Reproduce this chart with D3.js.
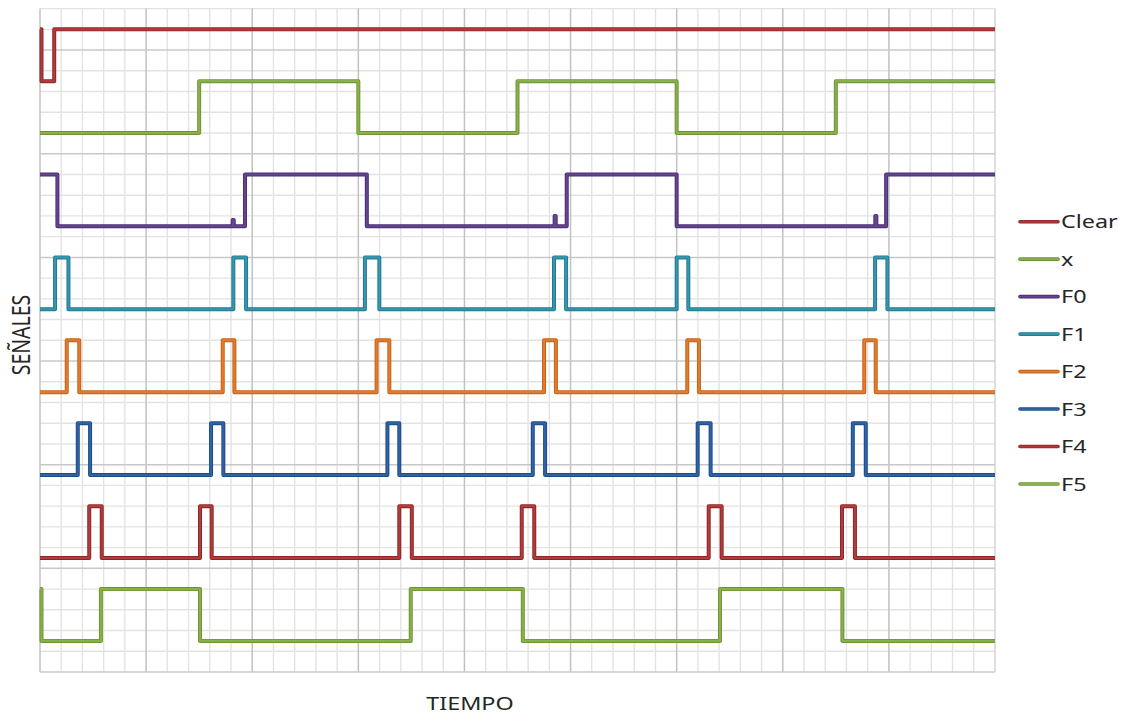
<!DOCTYPE html>
<html>
<head>
<meta charset="utf-8">
<script src="https://cdn.jsdelivr.net/npm/d3@7"></script>
<style>
  html, body { margin: 0; padding: 0; background: #fff; }
  svg { display: block; }
  .lbl { font-family: "Noto Sans", "DejaVu Sans", sans-serif; font-size: 18px; fill: #262626; }
</style>
</head>
<body>
<svg id="chart" width="1130" height="714"></svg>
<script>
(function () {
  "use strict";

  // time runs 0..45 (minor grid units), signal levels 0..32
  const T_MAX = 45;
  const Y_MAX = 32;

  const signalNames = ["Clear", "x", "F0", "F1", "F2", "F3", "F4", "F5"];
  const signalColors = ["#b23b3b", "#8ab04a", "#654490", "#3596ae", "#e27b2c", "#2f63a7", "#b23b3b", "#8ab04a"];
  const signalEdge = ["#8c2626", "#6f9236", "#4a2f72", "#23798f", "#c4621a", "#1d4b86", "#8c2626", "#6f9236"];
  const signalLow = [28.5, 26, 21.5, 17.5, 13.5, 9.5, 5.5, 1.5];
  const swing = 2.5;

  // [time, state] pairs, state 0 = low, 1 = high
  const clearPts = [[0, 1], [0.07, 0], [0.67, 1], [45, 1]];
  const xPts = [[0, 0], [7.5, 1], [15, 0], [22.5, 1], [30, 0], [37.5, 1], [45, 1]];
  const f0Pts = [[0, 1], [0.82, 0], [9.08, 0.12], [9.13, 0], [9.66, 1], [15.4, 0],
    [24.25, 0.2], [24.3, 0], [24.82, 1], [30, 0], [39.36, 0.2], [39.41, 0], [39.87, 1], [45, 1]];
  const f1Pts = [[0, 0], [0.71, 1], [1.34, 0], [9.11, 1], [9.71, 0], [15.31, 1], [15.99, 0],
    [24.22, 1], [24.79, 0], [30.0, 1], [30.55, 0], [39.35, 1], [39.93, 0], [45, 0]];
  const f2Pts = [[0, 0], [1.26, 1], [1.85, 0], [8.61, 1], [9.16, 0], [15.86, 1], [16.46, 0],
    [23.75, 1], [24.31, 0], [30.5, 1], [31.05, 0], [38.84, 1], [39.38, 0], [45, 0]];
  const f3Pts = [[0, 0], [1.78, 1], [2.36, 0], [8.06, 1], [8.64, 0], [16.37, 1], [16.93, 0],
    [23.22, 1], [23.8, 0], [30.99, 1], [31.6, 0], [38.3, 1], [38.91, 0], [45, 0]];
  const f4Pts = [[0, 0], [2.32, 1], [2.91, 0], [7.54, 1], [8.09, 0], [16.93, 1], [17.52, 0],
    [22.7, 1], [23.29, 0], [31.51, 1], [32.12, 0], [37.79, 1], [38.4, 0], [45, 0]];
  const f5Pts = [[0, 1], [0.07, 0], [2.87, 1], [7.54, 0], [17.47, 1], [22.75, 0],
    [32.04, 1], [37.81, 0], [45, 0]];

  const signalPts = [clearPts, xPts, f0Pts, f1Pts, f2Pts, f3Pts, f4Pts, f5Pts];

  const svg = d3.select("#chart");
  const x = d3.scaleLinear().domain([0, T_MAX]).range([40, 995]);
  const y = d3.scaleLinear().domain([0, Y_MAX]).range([672, 8.6]);

  // grid
  const grid = svg.append("g");
  grid.selectAll(".vminor")
    .data(d3.range(0, T_MAX + 1).filter(d => d % 5 !== 0))
    .join("line")
    .attr("x1", d => x(d)).attr("x2", d => x(d))
    .attr("y1", y(Y_MAX)).attr("y2", y(0))
    .attr("stroke", "#e3e3e3").attr("stroke-width", 1.4);
  grid.selectAll(".hminor")
    .data(d3.range(0, Y_MAX + 1).filter(d => d % 5 !== 0))
    .join("line")
    .attr("x1", x(0)).attr("x2", x(T_MAX))
    .attr("y1", d => y(d)).attr("y2", d => y(d))
    .attr("stroke", "#e3e3e3").attr("stroke-width", 1.4);
  grid.selectAll(".vmajor")
    .data(d3.range(0, T_MAX + 1, 5))
    .join("line")
    .attr("x1", d => x(d)).attr("x2", d => x(d))
    .attr("y1", y(Y_MAX)).attr("y2", y(0))
    .attr("stroke", d => d === T_MAX ? "#d4d4d4" : "#c2c2c2").attr("stroke-width", 1.5);
  grid.selectAll(".hmajor")
    .data(d3.range(0, Y_MAX + 1, 5))
    .join("line")
    .attr("x1", x(0)).attr("x2", x(T_MAX))
    .attr("y1", d => y(d)).attr("y2", d => y(d))
    .attr("stroke", "#c8c8c8").attr("stroke-width", 1.5);

  // signals
  const plot = svg.append("g");
  signalPts.forEach((pts, i) => {
    const line = d3.line()
      .x(d => x(d[0]))
      .y(d => y(signalLow[i] + d[1] * swing))
      .curve(d3.curveStepAfter);
    plot.append("path")
      .datum(pts)
      .attr("d", line)
      .attr("fill", "none")
      .attr("stroke", signalEdge[i])
      .attr("stroke-width", 4)
      .attr("stroke-linejoin", "round");
    plot.append("path")
      .datum(pts)
      .attr("d", line)
      .attr("fill", "none")
      .attr("stroke", signalColors[i])
      .attr("stroke-width", 2.1)
      .attr("stroke-linejoin", "round");
  });

  // legend
  const legendY = d3.scaleLinear().domain([0, signalNames.length - 1]).range([221.7, 484]);
  const legend = svg.append("g");
  signalNames.forEach((name, i) => {
    const g = legend.append("g").attr("transform", `translate(0,${legendY(i)})`);
    g.append("line").attr("x1", 1020).attr("x2", 1058)
      .attr("stroke", signalEdge[i]).attr("stroke-width", 3.6).attr("stroke-linecap", "round");
    g.append("line").attr("x1", 1020).attr("x2", 1058)
      .attr("stroke", signalColors[i]).attr("stroke-width", 1.8).attr("stroke-linecap", "round");
    g.append("text")
      .attr("class", "lbl")
      .attr("transform", "translate(1061,6.5) scale(1.3,1)")
      .text(name);
  });

  // axis titles
  svg.append("text")
    .attr("class", "lbl")
    .attr("transform", "translate(470,710) scale(1.3,1)")
    .attr("text-anchor", "middle")
    .text("TIEMPO");

  svg.append("text")
    .attr("class", "lbl")
    .style("font-size", "19.5px")
    .attr("transform", "translate(30,335) scale(1.3,1) rotate(-90)")
    .attr("text-anchor", "middle")
    .text("SEÑALES");
})();
</script>
</body>
</html>
